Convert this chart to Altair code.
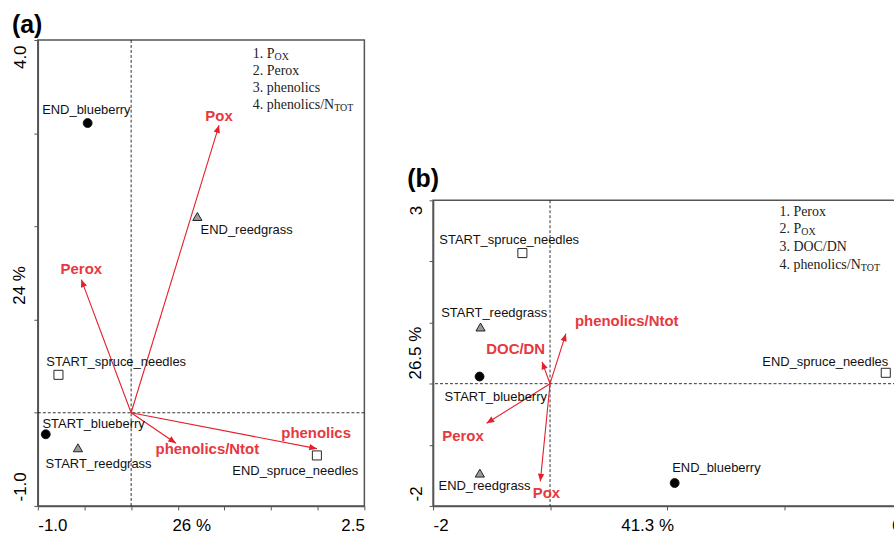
import math
import altair as alt
import pandas as pd

SANS = "Liberation Sans, Arial, Helvetica, sans-serif"
SERIF = "Liberation Serif, Times New Roman, serif"
ARROW_RED = "#e41e2b"
LABEL_RED = "#e8373f"
FRAME = "#555555"

# ---------------- Panel (a) ----------------
a_samples = ["END_blueberry", "END_reedgrass", "START_spruce_needles",
             "START_blueberry", "START_reedgrass", "END_spruce_needles"]
a_kind = ["blueberry", "reedgrass", "spruce", "blueberry", "reedgrass", "spruce"]
a_x = [-0.466, 0.71, -0.779, -0.915, -0.57, 1.991]
a_y = [3.109, 2.106, 0.407, -0.231, -0.376, -0.458]
a_lab_x = [-0.48, 1.238, -0.16, -0.402, -0.349, 1.759]
a_lab_y = [3.245, 1.959, 0.546, -0.12, -0.554, -0.626]
a_vars = ["Pox", "Perox", "phenolics", "phenolics/Ntot"]
a_vx = [0.942, -0.534, 1.991, 0.48]
a_vy = [3.085, 1.429, -0.385, -0.327]
a_vlab_x = [0.942, -0.534, 1.983, 0.817]
a_vlab_y = [3.185, 1.545, -0.213, -0.394]
a_legend = ["1. P", "2. Perox", "3. phenolics", "4. phenolics/N"]
a_legend_sub = ["OX", "", "", "TOT"]
a_xticks = [-1.0, -0.5, 0.0, 0.5, 1.0, 1.5, 2.0, 2.5]
a_yticks = [-1, 0, 1, 2, 3, 4]
a_xlabels = {-1.0: "-1.0", 2.5: "2.5"}
a_ylabels = {-1: "-1.0", 4: "4.0"}
a_xtitle = "26 %"
a_ytitle = "24 %"

# ---------------- Panel (b) ----------------
b_samples = ["START_spruce_needles", "START_reedgrass", "START_blueberry",
             "END_reedgrass", "END_blueberry", "END_spruce_needles"]
b_kind = ["spruce", "reedgrass", "blueberry", "reedgrass", "blueberry", "spruce"]
b_x = [-0.473, -1.188, -1.205, -1.2, 2.131, 5.74]
b_y = [2.137, 0.927, 0.117, -1.463, -1.625, 0.178]
b_lab_x = [-0.698, -0.955, -0.928, -1.12, 2.844, 4.706]
b_lab_y = [2.349, 1.16, -0.225, -1.679, -1.381, 0.357]
b_vars = ["phenolics/Ntot", "DOC/DN", "Perox", "Pox"]
b_vx = [0.271, -0.137, -1.085, -0.166]
b_vy = [0.818, 0.357, -0.648, -1.598]
b_vlab_x = [1.311, -0.587, -1.489, -0.061]
b_vlab_y = [1.024, 0.573, -0.853, -1.788]
b_legend = ["1. Perox", "2. P", "3. DOC/DN", "4. phenolics/N"]
b_legend_sub = ["", "OX", "", "TOT"]
b_xticks = [-2, 0, 2, 4, 6]
b_yticks = [-2, -1, 0, 1, 2, 3]
b_xlabels = {-2: "-2", 6: "6"}
b_ylabels = {-2: "-2", 3: "3"}
b_xtitle = "41.3 %"
b_ytitle = "26.5 %"

ARROW_PATH = "M0,0 L-0.42,1 L0.42,1 Z"

# approximate advance widths (em) of the serif font, for placing subscripts
SERIF_W = {"P": 0.556, "N": 0.722, ".": 0.25, " ": 0.25, "/": 0.278, "p": 0.5,
           "h": 0.5, "e": 0.444, "n": 0.5, "o": 0.5, "l": 0.278, "i": 0.278,
           "c": 0.444, "s": 0.389}


def serif_width(t, size):
    return sum(SERIF_W.get(ch, 0.5) for ch in t) * size


def label_expr(d):
    parts = " : ".join(f"datum.value == {k} ? '{v}'" for k, v in d.items())
    return parts + " : ''"


def panel(samples, kinds, px, py, lx, ly, vars_, vx, vy, vlx, vly,
          legend, legend_sub, xticks, yticks, xlabels, ylabels,
          xtitle, ytitle, width, height, xtitle_x, ytitle_y,
          leg_x, leg_y0, leg_dy, title, title_offset):
    xdom = [xticks[0], xticks[-1]]
    ydom = [yticks[0], yticks[-1]]
    sx = width / (xdom[1] - xdom[0])
    sy = height / (ydom[1] - ydom[0])

    pts = pd.DataFrame({"name": samples, "kind": kinds, "x": px, "y": py,
                        "lx": lx, "ly": ly})
    vec = pd.DataFrame({"var": vars_, "vx": vx, "vy": vy, "lx": vlx, "ly": vly})
    vec["x0"] = 0.0
    vec["y0"] = 0.0
    vec["angle"] = [math.degrees(math.atan2(a * sx, b * sy)) % 360
                    for a, b in zip(vx, vy)]

    xscale = alt.Scale(domain=xdom, nice=False, zero=False)
    yscale = alt.Scale(domain=ydom, nice=False, zero=False)
    x_axis = alt.Axis(values=xticks, labelExpr=label_expr(xlabels), labelFlush=True,
                      grid=False, tickSize=4, tickColor=FRAME, domainColor=FRAME,
                      domainWidth=1.5, labelPadding=8, labelFontSize=17,
                      labelFont=SANS, labelColor="black", title=xtitle,
                      titleX=xtitle_x, titleY=12, titleAlign="center",
                      titleBaseline="top", titleFontSize=17, titleFont=SANS,
                      titleFontWeight="normal", titleColor="black")
    y_axis = alt.Axis(values=yticks, labelExpr=label_expr(ylabels), grid=False,
                      tickSize=4, tickColor=FRAME, domainColor=FRAME, domainWidth=1.5,
                      labelAngle=270, labelBaseline="bottom",
                      labelAlign={"condition": {"test": "datum.value < 0", "value": "left"},
                                  "value": "right"},
                      labelOffset={"condition": {"test": "datum.value < 0", "value": -5},
                                   "value": 5},
                      labelPadding=4, labelFontSize=17, labelFont=SANS,
                      labelColor="black", title=ytitle, titleAngle=270,
                      titleX=-9, titleY=ytitle_y, titleAlign="center",
                      titleBaseline="bottom", titleFontSize=17, titleFont=SANS,
                      titleFontWeight="normal", titleColor="black")

    def X(f):
        return alt.X(f, type="quantitative", scale=xscale, axis=x_axis)

    def Y(f):
        return alt.Y(f, type="quantitative", scale=yscale, axis=y_axis)

    zero = pd.DataFrame({"z": [0.0]})
    vline = alt.Chart(zero).mark_rule(color="black", strokeWidth=0.8,
                                      strokeDash=[3, 2]).encode(x=X("z"))
    hline = alt.Chart(zero).mark_rule(color="black", strokeWidth=0.8,
                                      strokeDash=[3, 2]).encode(y=Y("z"))

    arrows = alt.Chart(vec).mark_rule(color=ARROW_RED, strokeWidth=1.1).encode(
        x=X("x0"), y=Y("y0"), x2="vx", y2="vy")
    heads = alt.Chart(vec).mark_point(shape=ARROW_PATH, filled=True, color=ARROW_RED,
                                      opacity=1, size=230, strokeWidth=0).encode(
        x=X("vx"), y=Y("vy"), angle=alt.Angle("angle:Q", scale=None))
    vlabels = alt.Chart(vec).mark_text(font=SANS, fontSize=15, fontWeight="bold",
                                       color=LABEL_RED).encode(
        x=X("lx"), y=Y("ly"), text="var:N")

    kinds_dom = ["blueberry", "spruce", "reedgrass"]
    points = alt.Chart(pts).mark_point(filled=True, opacity=1, stroke="#111",
                                       strokeWidth=0.9).encode(
        x=X("x"), y=Y("y"),
        shape=alt.Shape("kind:N", scale=alt.Scale(domain=kinds_dom,
                        range=["circle", "square", "triangle-up"]), legend=None),
        fill=alt.Fill("kind:N", scale=alt.Scale(domain=kinds_dom,
                      range=["#000000", "#ffffff", "#9a9a9a"]), legend=None),
        size=alt.Size("kind:N", scale=alt.Scale(domain=kinds_dom,
                      range=[80, 85, 85]), legend=None))
    plabels = alt.Chart(pts).mark_text(font=SANS, fontSize=13, color="#111").encode(
        x=X("lx"), y=Y("ly"), text="name:N")

    layers = [vline, hline, arrows, heads, points, plabels, vlabels]
    one = pd.DataFrame({"z": [0]})
    for i, (t, s) in enumerate(zip(legend, legend_sub)):
        yy = leg_y0 + i * leg_dy
        layers.append(alt.Chart(one).mark_text(
            text=t, align="left", baseline="middle", font=SERIF, fontSize=14,
            color="#222").encode(x=alt.value(leg_x), y=alt.value(yy)))
        if s:
            layers.append(alt.Chart(one).mark_text(
                text=s, align="left", baseline="middle", font=SERIF, fontSize=10,
                color="#222").encode(x=alt.value(leg_x + serif_width(t, 14)),
                                     y=alt.value(yy + 3)))

    return alt.layer(*layers).properties(
        width=width, height=height,
        title=alt.TitleParams(text=title, anchor="start", frame="bounds", fontSize=25,
                              fontWeight="bold", font=SANS, color="black",
                              offset=title_offset, dx=1))


pa = panel(a_samples, a_kind, a_x, a_y, a_lab_x, a_lab_y, a_vars, a_vx, a_vy,
           a_vlab_x, a_vlab_y, a_legend, a_legend_sub, a_xticks, a_yticks,
           a_xlabels, a_ylabels, a_xtitle, a_ytitle, 328, 468, 154, 246,
           216, 14, 17, "(a)", 2)
pb = panel(b_samples, b_kind, b_x, b_y, b_lab_x, b_lab_y, b_vars, b_vx, b_vy,
           b_vlab_x, b_vlab_y, b_legend, b_legend_sub, b_xticks, b_yticks,
           b_xlabels, b_ylabels, b_xtitle, b_ytitle, 470, 307, 215, 153,
           348, 11.5, 17.7, "(b)", 8)

spacer = alt.Chart(pd.DataFrame({"z": [0]})).mark_text(text="").encode(
    x=alt.value(0), y=alt.value(0)).properties(
    width=10, height=126, view=alt.ViewBackground(strokeOpacity=0))

chart = alt.hconcat(pa, alt.vconcat(spacer, pb, spacing=0), spacing=39).properties(
    padding={"left": 10, "top": 10, "right": -9, "bottom": 2}
).configure_view(stroke=FRAME, strokeWidth=1.5)

chart.save("out.html", embed_options={"renderer": "svg", "actions": False})
